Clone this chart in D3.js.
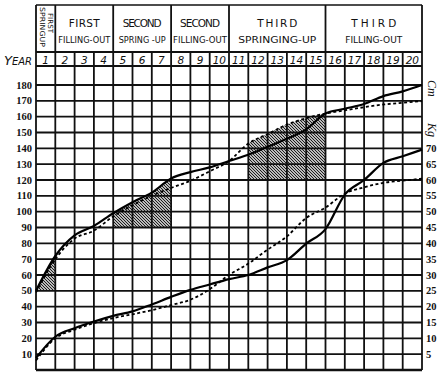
<!DOCTYPE html>
<html lang="en">
<head>
    <meta charset="UTF-8">
    <title>Growth periods</title>
    <script src="https://d3js.org/d3.v7.min.js"></script>
    <style>
        body { margin: 0; background: #fff; }
        text { fill: #111; }
    </style>
</head>
<body>
<script>
    // ages at the column boundaries (0 = birth)
    var ages = [0, 1, 2, 3, 4, 5, 6, 7, 8, 9, 10, 11, 12, 13, 14, 15, 16, 17, 18, 19, 20];
    var yearLabels = ["1", "2", "3", "4", "5", "6", "7", "8", "9", "10",
                      "11", "12", "13", "14", "15", "16", "17", "18", "19", "20"];

    // height in cm
    var heightBoys  = [50, 72, 85, 91, 99, 106, 112, 121, 125, 128, 132, 136, 141, 146, 152, 162, 165, 168, 173, 176, 180];
    var heightGirls = [49, 70, 83, 88, 97, 104, 110, 115, 119.5, 125.5, 132, 143, 149, 155, 159, 162, 164, 166, 167.7, 168.8, 169.8];
    // weight in kg
    var weightBoys  = [3.8, 10.5, 13.2, 15.3, 17.1, 18.5, 20.7, 23.1, 25.3, 27, 28.7, 30, 32.4, 34.7, 39.9, 44.5, 55.4, 60, 65.4, 67.5, 69.6];
    var weightGirls = [3, 10, 12.7, 14.8, 16.4, 17.6, 18.9, 20.5, 22.2, 25.5, 30, 33.6, 38, 42.2, 48, 51.3, 55.7, 57.7, 59.1, 59.8, 60.4];

    var cmTicks = [10, 20, 30, 40, 50, 60, 70, 80, 90, 100, 110, 120, 130, 140, 150, 160, 170, 180];
    var kgTicks = [5, 10, 15, 20, 25, 30, 35, 40, 45, 50, 55, 60, 65, 70];

    // phases: last year of each, and the two header lines
    var phaseEnds   = [1, 4, 7, 10, 15, 20];
    var phaseTop    = ["FIRST", "FIRST", "SECOND", "SECOND", "THIRD", "THIRD"];
    var phaseBottom = ["SPRINGUP", "FILLING-OUT", "SPRING -UP", "FILLING-OUT", "SPRINGING-UP", "FILLING-OUT"];
    var topWidth    = [20, 31, 39, 40, 40, 45];
    var bottomWidth = [40, 52, 47, 54, 78, 57];

    // hatched springing-up blocks: from age, to age, base (cm)
    var spurtFrom = [0, 4, 11];
    var spurtTo   = [1, 7, 15];
    var spurtBase = [50, 90, 120];

    var w = 446, h = 377;
    var left = 36, right = 422;
    var headTop = 5, headMid = 52, headBottom = 66, bottom = 370;

    var svg = d3.select("body").append("svg")
                .attr("width", w)
                .attr("height", h);

    var x = d3.scaleLinear().domain([0, 20]).range([left, right]);
    var y = d3.scaleLinear().domain([0, 180]).range([bottom, 85]);
    var yKg = d3.scaleLinear().domain([0, 90]).range([bottom, 85]);

    var defs = svg.append("defs");
    var pat = defs.append("pattern")
        .attr("id", "hatch")
        .attr("patternUnits", "userSpaceOnUse")
        .attr("width", 3).attr("height", 3);
    pat.append("path")
        .attr("d", "M-1,-1 L4,4 M-1,2 L1,4 M2,-1 L4,1")
        .attr("stroke", "#111").attr("stroke-width", 1.1);

    // clip = area under the upper of the two height curves
    var under = function(vals) {
        return d3.area()
            .x(function(d, i) { return x(ages[i]); })
            .y0(bottom)
            .y1(function(d) { return y(d); })
            .curve(d3.curveMonotoneX)(vals);
    };
    var clip = defs.append("clipPath").attr("id", "underHeight");
    clip.append("path").attr("d", under(heightBoys));
    clip.append("path").attr("d", under(heightGirls));

    svg.append("g")
        .attr("clip-path", "url(#underHeight)")
        .selectAll("rect")
        .data(spurtFrom)
        .enter()
        .append("rect")
        .attr("x", function(d) { return x(d); })
        .attr("width", function(d, i) { return x(spurtTo[i]) - x(d); })
        .attr("y", 0)
        .attr("height", function(d, i) { return y(spurtBase[i]); })
        .attr("fill", "url(#hatch)");

    // grid
    var grid = svg.append("g").attr("stroke", "#111").attr("stroke-width", 1.8);
    grid.selectAll("line.h")
        .data(cmTicks)
        .enter()
        .append("line")
        .attr("x1", left).attr("x2", right)
        .attr("y1", function(d) { return y(d); })
        .attr("y2", function(d) { return y(d); });
    grid.selectAll("line.v")
        .data(ages)
        .enter()
        .append("line")
        .attr("x1", function(d) { return x(d); })
        .attr("x2", function(d) { return x(d); })
        .attr("y1", headMid)
        .attr("y2", bottom);
    grid.append("line").attr("x1", left).attr("x2", right).attr("y1", bottom).attr("y2", bottom).attr("stroke-width", 2.4);
    grid.append("line").attr("x1", left).attr("x2", right).attr("y1", headBottom).attr("y2", headBottom).attr("stroke-width", 2.2);
    grid.append("line").attr("x1", left).attr("x2", right).attr("y1", headMid).attr("y2", headMid).attr("stroke-width", 2);
    grid.append("line").attr("x1", left).attr("x2", right).attr("y1", headTop).attr("y2", headTop).attr("stroke-width", 1.5);
    grid.selectAll("line.p")
        .data([0].concat(phaseEnds))
        .enter()
        .append("line")
        .attr("x1", function(d) { return x(d); })
        .attr("x2", function(d) { return x(d); })
        .attr("y1", headTop)
        .attr("y2", headMid);

    // header text
    var phaseStart = [0].concat(phaseEnds.slice(0, -1));
    var heads = svg.append("g").attr("font-family", "DejaVu Sans").attr("text-anchor", "middle");
    phaseEnds.forEach(function(e, i) {
        var cx = (x(phaseStart[i]) + x(e)) / 2;
        if (i === 0) {
            var g = heads.append("g").attr("transform", "translate(" + cx + ",27) rotate(90)");
            g.append("text").attr("x", -4).attr("y", -2.5).attr("font-size", 7)
                .attr("textLength", topWidth[i]).attr("lengthAdjust", "spacingAndGlyphs").text(phaseTop[i]);
            g.append("text").attr("y", 5.5).attr("font-size", 7)
                .attr("textLength", bottomWidth[i]).attr("lengthAdjust", "spacingAndGlyphs").text(phaseBottom[i]);
            return;
        }
        heads.append("text")
            .attr("x", cx).attr("y", 27)
            .attr("font-size", 10.5)
            .attr("textLength", topWidth[i])
            .attr("lengthAdjust", "spacing")
            .text(phaseTop[i]);
        heads.append("text")
            .attr("x", cx).attr("y", 43)
            .attr("font-size", 8.5)
            .attr("textLength", bottomWidth[i])
            .attr("lengthAdjust", "spacingAndGlyphs")
            .text(phaseBottom[i]);
    });

    svg.append("g")
        .selectAll("text")
        .data(yearLabels)
        .enter()
        .append("text")
        .attr("x", function(d, i) { return x(i + 0.5); })
        .attr("y", 64)
        .attr("text-anchor", "middle")
        .attr("font-family", "DejaVu Sans")
        .attr("font-style", "italic")
        .attr("font-size", 10.5)
        .text(function(d) { return d; });

    var yr = svg.append("text")
        .attr("x", 4).attr("y", 64.5)
        .attr("font-family", "DejaVu Sans")
        .attr("font-style", "italic");
    yr.append("tspan").attr("font-size", 13).text("Y");
    yr.append("tspan").attr("font-size", 10).text("EAR");

    // axis labels
    svg.append("g")
        .selectAll("text")
        .data(cmTicks)
        .enter()
        .append("text")
        .attr("x", 32)
        .attr("y", function(d) { return y(d) + 3.5; })
        .attr("text-anchor", "end")
        .attr("font-family", "Liberation Serif")
        .attr("font-weight", "bold")
        .attr("font-size", 10.5)
        .text(function(d) { return d; });

    svg.append("g")
        .selectAll("text")
        .data(kgTicks)
        .enter()
        .append("text")
        .attr("x", 426)
        .attr("y", function(d) { return yKg(d) + 3.5; })
        .attr("font-family", "Liberation Serif")
        .attr("font-weight", "bold")
        .attr("font-size", 10.5)
        .text(function(d) { return d; });

    svg.append("text")
        .attr("transform", "translate(428,80) rotate(90)")
        .attr("font-family", "Liberation Serif")
        .attr("font-style", "italic")
        .attr("font-size", 12)
        .text("Cm");
    svg.append("text")
        .attr("transform", "translate(428,123) rotate(90)")
        .attr("font-family", "Liberation Serif")
        .attr("font-style", "italic")
        .attr("font-size", 12)
        .text("Kg");

    // curves
    var lineCm = d3.line()
        .x(function(d, i) { return x(ages[i]); })
        .y(function(d) { return y(d); })
        .curve(d3.curveMonotoneX);
    var lineKg = d3.line()
        .x(function(d, i) { return x(ages[i]); })
        .y(function(d) { return yKg(d); })
        .curve(d3.curveMonotoneX);

    var curves = svg.append("g").attr("fill", "none").attr("stroke", "#000");
    curves.append("path").attr("d", lineCm(heightBoys)).attr("stroke-width", 2.2);
    curves.append("path").attr("d", lineCm(heightGirls)).attr("stroke-width", 1.8).attr("stroke-dasharray", "3,2.5");
    curves.append("path").attr("d", lineKg(weightBoys)).attr("stroke-width", 2.2);
    curves.append("path").attr("d", lineKg(weightGirls)).attr("stroke-width", 1.8).attr("stroke-dasharray", "3,2.5");
</script>
</body>
</html>
